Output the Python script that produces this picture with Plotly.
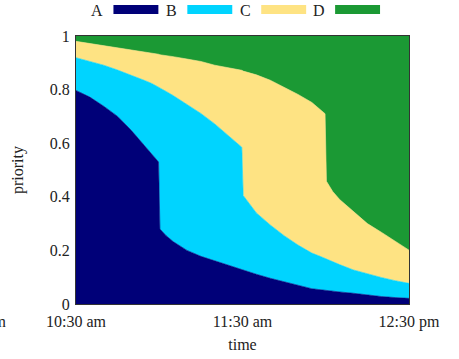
import plotly.graph_objects as go

# ---- data ----
times = ["10:30:00", "10:35:00", "10:40:00", "10:45:00", "10:50:00", "10:55:00", "10:57:30",
         "10:59:45", "11:00:15", "11:02:30", "11:05:00", "11:10:00", "11:15:00", "11:20:00",
         "11:25:00", "11:27:30", "11:29:45", "11:30:15", "11:32:30", "11:35:00", "11:40:00",
         "11:45:00", "11:50:00", "11:55:00", "11:57:30", "11:59:45", "12:00:15", "12:02:30",
         "12:05:00", "12:10:00", "12:15:00", "12:20:00", "12:25:00", "12:30:00"]
series_names = ["A", "B", "C", "D"]
A = [0.797, 0.772, 0.738, 0.700, 0.647, 0.585, 0.558,
     0.530, 0.280, 0.255, 0.233, 0.200, 0.178, 0.161,
     0.144, 0.135, 0.128, 0.126, 0.119, 0.111, 0.096,
     0.083, 0.070, 0.057, 0.054, 0.052, 0.051, 0.048,
     0.045, 0.040, 0.033, 0.028, 0.024, 0.021]
B = [0.122, 0.133, 0.153, 0.173, 0.207, 0.248, 0.264,
     0.280, 0.525, 0.538, 0.545, 0.546, 0.533, 0.511,
     0.483, 0.468, 0.457, 0.279, 0.257, 0.229, 0.199,
     0.172, 0.150, 0.133, 0.126, 0.118, 0.115, 0.109,
     0.102, 0.087, 0.079, 0.071, 0.063, 0.056]
C = [0.061, 0.067, 0.074, 0.084, 0.096, 0.108, 0.115,
     0.122, 0.125, 0.134, 0.145, 0.168, 0.194, 0.219,
     0.255, 0.274, 0.287, 0.464, 0.486, 0.515, 0.540,
     0.555, 0.562, 0.562, 0.548, 0.540, 0.292, 0.263,
     0.243, 0.217, 0.188, 0.169, 0.148, 0.124]
D = [0.020, 0.028, 0.035, 0.043, 0.050, 0.059, 0.063,
     0.068, 0.070, 0.073, 0.077, 0.086, 0.095, 0.109,
     0.118, 0.123, 0.128, 0.131, 0.138, 0.145, 0.165,
     0.190, 0.218, 0.248, 0.272, 0.290, 0.542, 0.580,
     0.610, 0.656, 0.700, 0.732, 0.765, 0.799]
x_tick_times = ["10:30:00", "11:30:00", "12:30:00"]
x_tick_labels = ["10:30 am", "11:30 am", "12:30 pm"]
y_ticks = [0, 0.2, 0.4, 0.6, 0.8, 1]

colors = ["#000078", "#00d4ff", "#fee383", "#1b9934"]
DAY = "2024-01-01 "
xs = [DAY + t for t in times]

FONT = "Liberation Serif, Times New Roman, serif"
FS = 16
W, H = 459, 359
ML, MR, MT, MB = 75.5, 50, 36, 55
PW, PH = W - ML - MR, H - MT - MB

fig = go.Figure()
for name, vals, col in zip(series_names, [A, B, C, D], colors):
    fig.add_trace(go.Scatter(x=xs, y=vals, name=name, mode="lines", stackgroup="one",
                             line=dict(width=0.6, color=col), fillcolor=col,
                             showlegend=False))

def px_to_paper_x(px):
    return (px - ML) / PW

def px_to_paper_y(py):
    return (H - MB - py) / PH

# custom legend: label text followed by its swatch (gnuplot style)
annotations = []
shapes = []
for i, (name, col) in enumerate(zip(series_names, colors)):
    tx = 97 + i * 74
    annotations.append(dict(text=name, xref="paper", yref="paper",
                            x=px_to_paper_x(tx), y=px_to_paper_y(10),
                            xanchor="center", yanchor="middle", showarrow=False,
                            font=dict(family=FONT, size=FS, color="#222")))
    shapes.append(dict(type="rect", xref="paper", yref="paper",
                       x0=px_to_paper_x(tx + 16), x1=px_to_paper_x(tx + 61),
                       y0=px_to_paper_y(14), y1=px_to_paper_y(5),
                       fillcolor=col, line=dict(width=0)))

# clipped tick label at far left
annotations.append(dict(text="9:30 am", xref="paper", yref="paper",
                        x=px_to_paper_x(8.5), y=px_to_paper_y(321.5),
                        xanchor="right", yanchor="middle", showarrow=False,
                        font=dict(family=FONT, size=FS, color="#222")))

fig.update_layout(
    width=W, height=H,
    margin=dict(l=ML, r=MR, t=MT, b=MB, pad=0, autoexpand=False),
    plot_bgcolor="white", paper_bgcolor="white",
    font=dict(family=FONT, size=FS, color="#222"),
    annotations=annotations, shapes=shapes,
    xaxis=dict(range=[DAY + "10:30:00", DAY + "12:30:00"],
               tickvals=[DAY + t for t in x_tick_times], ticktext=x_tick_labels,
               showgrid=False, zeroline=False, showline=True, linecolor="#333",
               linewidth=1, mirror=True, ticks="", ticklen=0, ticklabelstandoff=3,
               automargin=False,
               title=dict(text="time", standoff=8, font=dict(family=FONT, size=FS))),
    yaxis=dict(range=[0, 1], tickvals=y_ticks,
               showgrid=False, zeroline=False, showline=True, linecolor="#333",
               linewidth=1, mirror=True, ticks="", ticklen=0, ticklabelstandoff=2,
               automargin=False,
               title=dict(text="priority", standoff=22, font=dict(family=FONT, size=FS))),
)

fig.write_html("out.html", config={"displayModeBar": False},
               post_script="document.body.style.margin='0';document.body.style.overflow='hidden';")
